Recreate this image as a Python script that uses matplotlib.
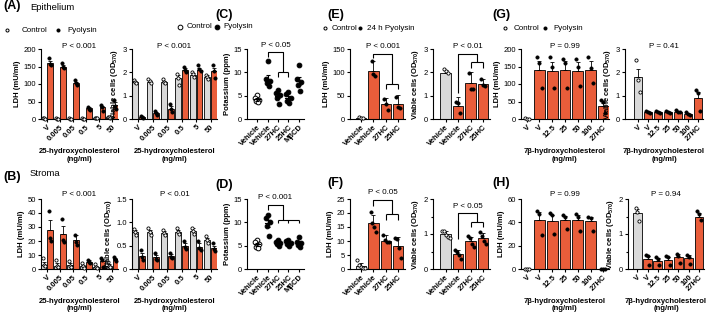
import matplotlib.pyplot as plt
from matplotlib.lines import Line2D

plt.rcParams['font.family'] = ['Liberation Sans', 'DejaVu Sans']
plt.rcParams['mathtext.fontset'] = 'custom'
plt.rcParams['mathtext.rm'] = 'Liberation Sans'
plt.rcParams['mathtext.bf'] = 'Liberation Sans:bold'

GREY = '#d9d9d9'
RED = '#e95d3a'
W, H = 709, 315

# ---------------- data ----------------
# (A)/(B) 25-hydroxycholesterol dose response
dose_labels = ['V', '0.005', '0.05', '0.5', '5', '50']

a_ldh_ctrl = [2, 1, 1, 1, 3, 5]
a_ldh_ctrl_err = [1, 0.5, 0.5, 0.5, 1, 1]
a_ldh_ctrl_pts = [[3, 2, 1], [1.5, 1, 0.5], [1.5, 1, 0.5], [2, 1, 0.5], [4, 3, 2], [6, 5, 4]]
a_ldh_pyo = [160, 150, 102, 31, 33, 40]
a_ldh_pyo_err = [6, 5, 4, 4, 5, 8]
a_ldh_pyo_pts = [[173, 158, 154], [160, 149, 145], [111, 104, 97], [35, 30, 25], [40, 33, 24], [54, 38, 28]]

a_via_ctrl = [1.6, 1.6, 1.6, 1.75, 1.9, 1.8]
a_via_ctrl_err = [0.05, 0.05, 0.05, 0.15, 0.07, 0.07]
a_via_ctrl_pts = [[1.68, 1.6, 1.55], [1.7, 1.62, 1.55], [1.7, 1.6, 1.55], [1.92, 1.75, 1.45], [2.0, 1.92, 1.8], [1.9, 1.8, 1.72]]
a_via_pyo = [0.1, 0.25, 0.45, 2.1, 2.12, 2.05]
a_via_pyo_err = [0.03, 0.05, 0.1, 0.07, 0.07, 0.15]
a_via_pyo_pts = [[0.15, 0.1, 0.05], [0.35, 0.25, 0.18], [0.65, 0.45, 0.3], [2.25, 2.1, 2.0], [2.3, 2.15, 2.05], [2.3, 2.05, 1.75]]

b_ldh_ctrl = [3, 2.5, 3, 2, 1.5, 2.5]
b_ldh_ctrl_err = [2, 1.5, 1.2, 1, 0.8, 1]
b_ldh_ctrl_pts = [[7.8, 3, 2], [6.6, 2, 1.5], [5.4, 2, 1.5], [4.2, 2, 1], [3.5, 1.5, 0.8], [4.7, 2, 1.5]]
b_ldh_pyo = [28, 25, 21, 5.2, 5.4, 7]
b_ldh_pyo_err = [7, 5.5, 3.5, 1, 2, 1.2]
b_ldh_pyo_pts = [[41.5, 22, 20], [36, 21, 19.5], [24, 19.5, 17.5], [6.6, 5.2, 4], [7.8, 6.6, 1.5], [8.5, 7, 5.5]]

b_via_ctrl = [0.8, 0.8, 0.78, 0.8, 0.82, 0.62]
b_via_ctrl_err = [0.04, 0.04, 0.03, 0.04, 0.05, 0.05]
b_via_ctrl_pts = [[0.85, 0.8, 0.73], [0.87, 0.8, 0.73], [0.83, 0.77, 0.73], [0.87, 0.8, 0.75], [0.88, 0.82, 0.76], [0.7, 0.62, 0.55]]
b_via_pyo = [0.28, 0.25, 0.28, 0.5, 0.48, 0.45]
b_via_pyo_err = [0.06, 0.05, 0.04, 0.06, 0.07, 0.05]
b_via_pyo_pts = [[0.41, 0.25, 0.2], [0.35, 0.22, 0.2], [0.35, 0.26, 0.23], [0.6, 0.48, 0.42], [0.6, 0.45, 0.4], [0.55, 0.43, 0.38]]

# (C)/(D) potassium
k_labels = ['Vehicle', 'Vehicle', '27HC', '25HC', 'M\u03b2CD']
c_pts = [[5.1, 4.5, 4.0, 3.8, 3.6], [12.5, 8.6, 8.1, 7.7, 7.0], [6.3, 5.6, 5.1, 4.6, 3.2],
         [5.8, 5.3, 4.4, 3.9, 3.4], [11.6, 8.5, 7.9, 7.2, 6.0]]
c_mean = [4.2, 8.3, 5.0, 4.5, 8.2]
c_err = [0.3, 1.1, 0.5, 0.45, 0.9]
d_pts = [[6.2, 5.7, 5.3, 4.8, 4.5], [11.5, 11.0, 10.0, 9.2, 7.0], [6.2, 5.8, 5.6, 5.3, 5.0],
         [6.2, 5.9, 5.6, 5.3, 5.0], [6.9, 5.8, 5.5, 5.2, 4.8]]
d_mean = [5.3, 9.8, 5.6, 5.6, 5.6]
d_err = [0.3, 0.8, 0.2, 0.2, 0.35]

# (E)/(F) 24 h pyolysin
veh_labels = ['Vehicle', 'Vehicle', '27HC', '25HC']
e_ldh = [3, 103, 32, 32]
e_ldh_err = [1.5, 22, 13, 19]
e_ldh_pts = [[4.5, 3, 1.5], [124, 96, 92], [43, 33, 20], [48, 26, 24]]
e_via = [1.98, 0.57, 1.53, 1.5]
e_via_err = [0.1, 0.38, 0.48, 0.22]
e_via_pts = [[2.16, 2.06, 1.98], [0.75, 0.68, 0.25], [1.98, 1.3, 1.27], [1.7, 1.46, 1.42]]
f_ldh = [1.0, 16.5, 10.1, 8.3]
f_ldh_err = [1.1, 2.8, 2.0, 3.0]
f_ldh_pts = [[3.1, 1.5, 0.8, 0.4, 0.2], [20.5, 16.5, 14.9, 13.3], [12.1, 10.4, 9.8, 9.6], [11.2, 10.6, 7.5, 3.9]]
f_via = [0.99, 0.44, 0.79, 0.88]
f_via_err = [0.09, 0.11, 0.13, 0.16]
f_via_pts = [[1.1, 1.08, 0.98, 0.92, 0.88], [0.53, 0.5, 0.4, 0.3], [0.94, 0.88, 0.72, 0.62], [1.06, 0.94, 0.8, 0.72]]

# (G)/(H) 7beta-hydroxycholesterol
g_labels = ['V', 'V', '12.5', '25', '50', '100', '27HC']
g_ldh = [1, 140, 138, 140, 138, 141, 36]
g_ldh_err = [0.5, 26, 25, 26, 25, 26, 9]
g_ldh_pts = [[1.5, 1, 0.5], [178, 160, 88], [177, 150, 88], [172, 160, 88], [172, 150, 95], [178, 145, 102], [55, 48, 17]]
g_via = [1.78, 0.3, 0.3, 0.3, 0.32, 0.22, 0.89]
g_via_err = [0.36, 0.03, 0.03, 0.03, 0.03, 0.03, 0.28]
g_via_pts = [[2.55, 1.67, 1.17], [0.33, 0.3, 0.26], [0.34, 0.3, 0.27], [0.35, 0.3, 0.27],
             [0.38, 0.32, 0.28], [0.3, 0.2, 0.17], [1.24, 1.13, 0.35]]
h_ldh = [0.3, 42, 41, 42, 42, 41, 0.3]
h_ldh_err = [0.2, 6.5, 5.5, 3.5, 4, 4, 0.2]
h_ldh_pts = [[0.3, 0.3, 0.3], [49.6, 47, 29], [48, 46, 30], [46, 45, 34.6], [47, 45, 33], [45, 44, 33], [0.3, 0.3, 0.3]]
h_via = [1.6, 0.28, 0.24, 0.26, 0.34, 0.31, 1.5]
h_via_err = [0.12, 0.09, 0.07, 0.08, 0.08, 0.08, 0.09]
h_via_pts = [[1.75, 1.62, 1.37], [0.4, 0.36, 0.12], [0.34, 0.3, 0.12], [0.36, 0.33, 0.12],
             [0.43, 0.38, 0.17], [0.4, 0.34, 0.15], [1.65, 1.56, 1.4]]

# ---------------- helpers ----------------
fig = plt.figure(figsize=(W / 100, H / 100), dpi=100)


def make_ax(x0, x1, y0, y1):
    return fig.add_axes([x0 / W, 1 - y1 / H, (x1 - x0) / W, (y1 - y0) / H])


def setup(ax, ymax, ticks, ticklabels, ylabel, xlabels, xlim, minor=None):
    ax.set_xlim(*xlim)
    ax.set_ylim(0, ymax)
    ax.set_yticks(ticks)
    ax.set_yticklabels(ticklabels)
    if minor:
        ax.set_yticks(minor, minor=True)
    for s in ['top', 'right']:
        ax.spines[s].set_visible(False)
    for s in ['left', 'bottom']:
        ax.spines[s].set_linewidth(0.8)
    ax.tick_params(axis='both', which='both', labelsize=5.5, length=2.5, width=0.8, pad=1)
    ax.tick_params(axis='y', which='minor', length=1.5)
    ax.set_xticks(range(len(xlabels)))
    ax.set_xticklabels(xlabels, rotation=45, ha='right', rotation_mode='anchor', fontweight='bold')
    ax.set_ylabel(ylabel, fontsize=5.5, fontweight='bold', labelpad=2)


def dots(ax, x, vals, filled, ms=2.3, spread=0.09):
    n = len(vals)
    xs = [x + (k - (n - 1) / 2) * spread for k in range(n)]
    ax.plot(xs, vals, 'o', ms=ms, mfc='black' if filled else 'white', mec='black',
            mew=0.6, zorder=4, clip_on=False)


def bar(ax, x, h, err, color, w):
    ax.bar(x, h, w, color=color, edgecolor='black', lw=0.6, zorder=2)
    ax.errorbar([x], [h], yerr=[[0], [err]], fmt='none', ecolor='black', elinewidth=0.6,
                capsize=1.5, capthick=0.6, zorder=3)


def grouped(ax, ctrl, ctrl_err, ctrl_pts, pyo, pyo_err, pyo_pts):
    for i in range(len(ctrl)):
        bar(ax, i - 0.235, ctrl[i], ctrl_err[i], GREY, 0.4)
        dots(ax, i - 0.235, ctrl_pts[i], False, spread=0.07)
        bar(ax, i + 0.235, pyo[i], pyo_err[i], RED, 0.4)
        dots(ax, i + 0.235, pyo_pts[i], True, spread=0.07)


def single(ax, means, errs, pts, w=0.85):
    for i in range(len(means)):
        bar(ax, i, means[i], errs[i], GREY if i == 0 else RED, w)
        dots(ax, i, pts[i], i != 0, spread=0.16)


def dotplot(ax, pts, means, errs):
    offs = [0, -0.2, 0.2, -0.1, 0.1]
    for i in range(len(pts)):
        xs = [i + offs[k % 5] for k in range(len(pts[i]))]
        ax.plot(xs, pts[i], 'o', ms=3.4, mfc='black' if i else 'white', mec='black',
                mew=0.7, zorder=3, clip_on=False)
        ax.plot([i - 0.3, i + 0.3], [means[i]] * 2, color='black', lw=0.8, zorder=4)
        ax.errorbar([i], [means[i]], yerr=[errs[i]], fmt='none', ecolor='black',
                    elinewidth=0.8, capsize=1.5, capthick=0.8, zorder=4)


def bracket(ax, x1, x2, y, y1_end, sub_x, y_sub, y_sub_end, text):
    kw = dict(color='black', lw=0.8, clip_on=False, solid_capstyle='butt')
    ax.plot([x1, x1, x2, x2], [y1_end, y, y, y_sub], **kw)
    ax.plot([sub_x[0], sub_x[-1]], [y_sub, y_sub], **kw)
    for sx in sub_x:
        ax.plot([sx, sx], [y_sub, y_sub_end], **kw)
    ax.annotate(text, xy=((x1 + x2) / 2, y), xytext=(0, 5), textcoords='offset points',
                ha='center', va='center', fontsize=5.8)


def ptext(ax, text, yfrac):
    ax.text(0.5, yfrac, text, transform=ax.transAxes, ha='center', va='center', fontsize=5.8)


def figtext(x, y, s, **kw):
    fig.text(x / W, 1 - y / H, s, va='center', **kw)


def legend(y, items, ms):
    for xm, xt, label, filled in items:
        fig.add_artist(Line2D([xm / W], [1 - y / H], marker='o', ms=ms,
                              mfc='black' if filled else 'white', mec='black', mew=0.7,
                              transform=fig.transFigure))
        figtext(xt, y, label, fontsize=5.8)


R1, R2 = (49, 119), (199, 269)
via_label = 'Viable cells (OD$_\\mathbf{570}$)'

# ---------------- row 1 ----------------
ax = make_ax(41, 118, *R1)
grouped(ax, a_ldh_ctrl, a_ldh_ctrl_err, a_ldh_ctrl_pts, a_ldh_pyo, a_ldh_pyo_err, a_ldh_pyo_pts)
setup(ax, 200, [0, 50, 100, 150, 200], ['0', '50', '100', '150', '200'], 'LDH (mU/ml)',
      dose_labels, (-0.45, 5.45))
ptext(ax, 'P < 0.001', 1.03)

ax = make_ax(132, 217, *R1)
grouped(ax, a_via_ctrl, a_via_ctrl_err, a_via_ctrl_pts, a_via_pyo, a_via_pyo_err, a_via_pyo_pts)
setup(ax, 3, [0, 1, 2, 3], ['0', '1', '2', '3'], via_label, dose_labels, (-0.45, 5.45))
ptext(ax, 'P < 0.001', 1.03)

ax = make_ax(247, 304, *R1)
dotplot(ax, c_pts, c_mean, c_err)
setup(ax, 15, [0, 5, 10, 15], ['0', '5', '10', '15'], 'Potassium (ppm)', k_labels, (-1, 4.5))
bracket(ax, 1, 2.5, 14.3, 13.3, [2, 3], 10.0, 9.1, 'P < 0.05')

ax = make_ax(350, 405, *R1)
single(ax, e_ldh, e_ldh_err, e_ldh_pts)
setup(ax, 150, [0, 50, 100, 150], ['0', '50', '100', '150'], 'LDH (mU/ml)', veh_labels, (-0.9, 3.55))
bracket(ax, 1, 2.5, 140, 130, [2, 3], 76, 64, 'P < 0.001')

ax = make_ax(433, 490, *R1)
single(ax, e_via, e_via_err, e_via_pts)
setup(ax, 3, [0, 1, 2, 3], ['0', '1', '2', '3'], via_label, veh_labels, (-1, 3.55))
bracket(ax, 1, 2.5, 2.8, 1.1, [2, 3], 2.45, 2.2, 'P < 0.01')

ax = make_ax(521, 609, *R1)
single(ax, g_ldh, g_ldh_err, g_ldh_pts)
setup(ax, 200, [0, 50, 100, 150, 200], ['0', '50', '100', '150', '200'], 'LDH (mU/ml)',
      g_labels, (-0.45, 6.45))
ptext(ax, 'P = 0.99', 1.03)

ax = make_ax(625, 703, *R1)
single(ax, g_via, g_via_err, g_via_pts)
setup(ax, 3, [0, 1, 2, 3], ['0', '1', '2', '3'], via_label, g_labels, (-1.3, 6.5))
ptext(ax, 'P = 0.41', 1.03)

# ---------------- row 2 ----------------
ax = make_ax(41, 118, *R2)
grouped(ax, b_ldh_ctrl, b_ldh_ctrl_err, b_ldh_ctrl_pts, b_ldh_pyo, b_ldh_pyo_err, b_ldh_pyo_pts)
setup(ax, 50, [0, 10, 20, 30, 40, 50], ['0', '10', '20', '30', '40', '50'], 'LDH (mU/ml)',
      dose_labels, (-0.45, 5.45))
ptext(ax, 'P < 0.001', 1.06)

ax = make_ax(132, 217, *R2)
grouped(ax, b_via_ctrl, b_via_ctrl_err, b_via_ctrl_pts, b_via_pyo, b_via_pyo_err, b_via_pyo_pts)
setup(ax, 1.5, [0, 0.5, 1.0, 1.5], ['0', '0.5', '1.0', '1.5'], via_label, dose_labels, (-0.45, 5.45))
ptext(ax, 'P < 0.01', 1.06)

ax = make_ax(247, 304, *R2)
dotplot(ax, d_pts, d_mean, d_err)
setup(ax, 15, [0, 5, 10, 15], ['0', '5', '10', '15'], 'Potassium (ppm)', k_labels, (-1, 4.5))
bracket(ax, 1, 2.5, 13.8, 12.6, [2, 3, 4], 10.5, 9.8, 'P < 0.001')

ax = make_ax(350, 405, *R2)
single(ax, f_ldh, f_ldh_err, f_ldh_pts)
setup(ax, 25, [0, 5, 10, 15, 20, 25], ['0', '5', '10', '15', '20', '25'], 'LDH (mU/ml)',
      veh_labels, (-0.9, 3.55))
bracket(ax, 1, 2.5, 24.7, 22.5, [2, 3], 19.8, 17.5, 'P < 0.05')

ax = make_ax(433, 490, *R2)
single(ax, f_via, f_via_err, f_via_pts)
setup(ax, 2, [0, 1, 2], ['0', '1', '2'], via_label, veh_labels, (-1, 3.55), minor=[0.5, 1.5])
bracket(ax, 1, 2.5, 1.59, 0.85, [2, 3], 1.33, 1.19, 'P < 0.05')

ax = make_ax(521, 609, *R2)
single(ax, h_ldh, h_ldh_err, h_ldh_pts)
setup(ax, 60, [0, 20, 40, 60], ['0', '20', '40', '60'], 'LDH (mU/ml)', g_labels, (-0.45, 6.45))
ptext(ax, 'P = 0.99', 1.06)

ax = make_ax(628, 704, *R2)
single(ax, h_via, h_via_err, h_via_pts)
setup(ax, 2, [0, 1, 2], ['0', '1', '2'], via_label, g_labels, (-0.9, 6.5), minor=[0.5, 1.5])
ptext(ax, 'P = 0.94', 1.06)

# ---------------- labels ----------------
xl25 = '25-hydroxycholesterol\n(ng/ml)'
xl7b = '7\u03b2-hydroxycholesterol\n(ng/ml)'
for xc, yc, s in [(79.5, 155.5, xl25), (174.5, 155.5, xl25), (79.5, 305, xl25), (174.5, 305, xl25),
                  (565, 155.5, xl7b), (664, 155.5, xl7b), (565, 305, xl7b), (666, 305, xl7b)]:
    figtext(xc, yc, s, ha='center', fontsize=5.5, fontweight='bold', linespacing=1.15)

for x, y, s in [(3, 6, '(A)'), (3, 177, '(B)'), (215, 15, '(C)'), (215, 185, '(D)'),
                (327, 15, '(E)'), (327, 183, '(F)'), (492, 15, '(G)'), (492, 183, '(H)')]:
    figtext(x, y, s, ha='left', fontsize=9, fontweight='bold')
figtext(30, 7, 'Epithelium', ha='left', fontsize=6.8)
figtext(30, 173, 'Stroma', ha='left', fontsize=6.8)

legend(30, [(7, 22, 'Control', False), (58, 67, 'Pyolysin', True)], 2.2)
legend(27, [(180, 187, 'Control', False), (217, 223, 'Pyolysin', True)], 3.4)
legend(28, [(325, 332, 'Control', False), (360, 367, '24 h Pyolysin', True)], 2.2)
legend(28, [(505, 514, 'Control', False), (545, 553, 'Pyolysin', True)], 2.2)

fig.savefig('out.png', dpi=100)
